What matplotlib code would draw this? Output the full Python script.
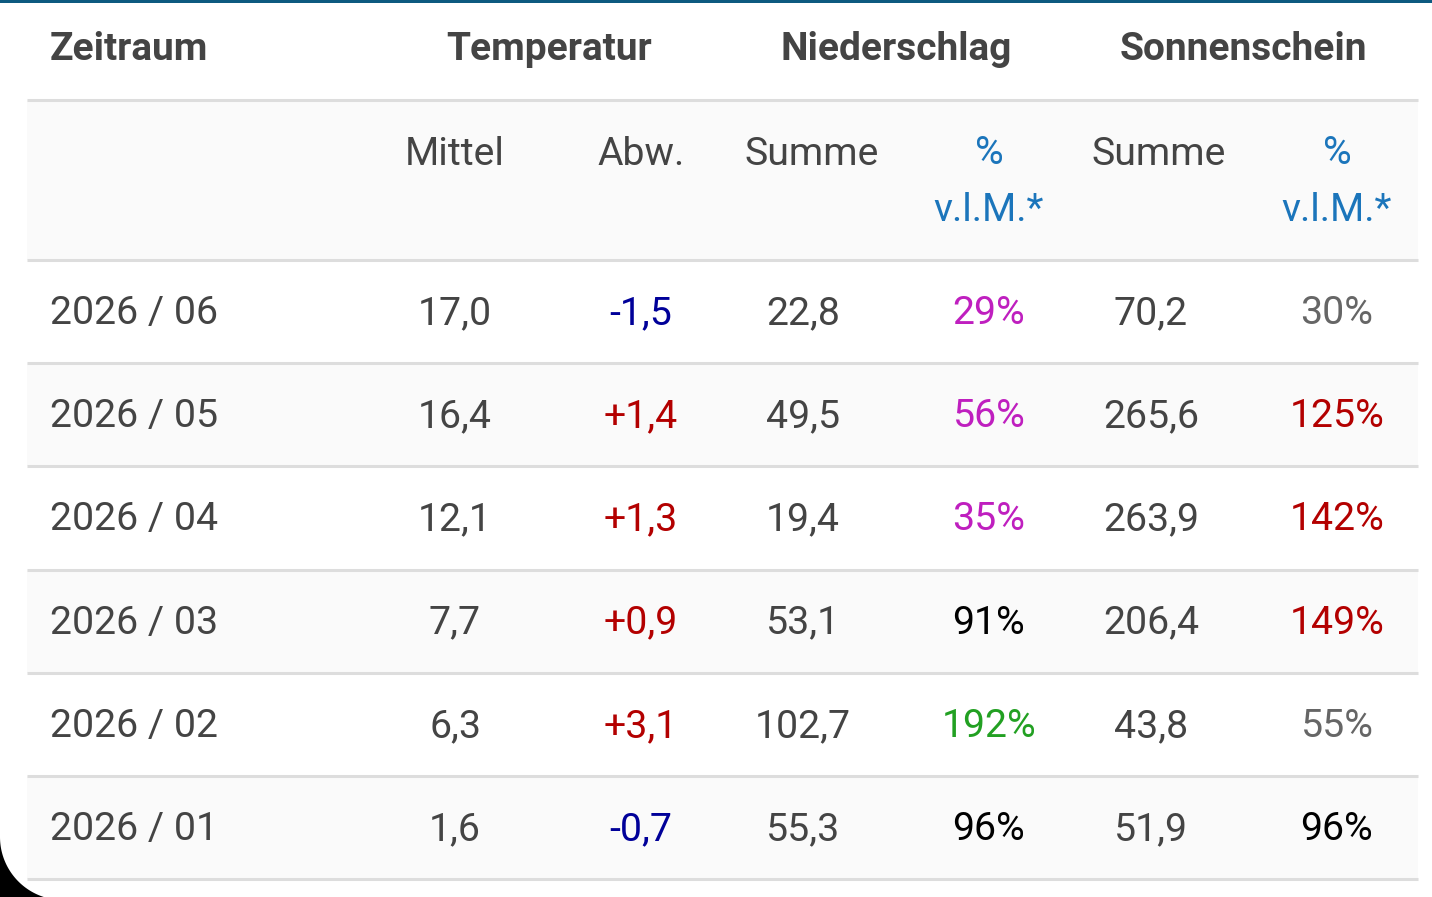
import matplotlib
matplotlib.use("Agg")
import matplotlib.pyplot as plt
import matplotlib.patches as mpatches
import numpy as np

plt.rcParams["font.family"] = ["Roboto", "DejaVu Sans"]

# Daten
zeitraum = ["2026 / 06", "2026 / 05", "2026 / 04", "2026 / 03", "2026 / 02", "2026 / 01"]
temp_mittel = [17.0, 16.4, 12.1, 7.7, 6.3, 1.6]
temp_abw = [-1.5, 1.4, 1.3, 0.9, 3.1, -0.7]
nied_summe = [22.8, 49.5, 19.4, 53.1, 102.7, 55.3]
nied_proz = [29, 56, 35, 91, 192, 96]
sonne_summe = [70.2, 265.6, 263.9, 206.4, 43.8, 51.9]
sonne_proz = [30, 125, 142, 149, 55, 96]

gruppen = ["Temperatur", "Niederschlag", "Sonnenschein"]
unterkopf = ["Mittel", "Abw.", "Summe", "%\nv.l.M.*", "Summe", "%\nv.l.M.*"]

TXT = "#444444"
BLAU_KOPF = "#1b75bb"
LINIE = "#dddddd"
GRAU_BG = "#fafafa"


def de(v, plus=False):
    s = f"{v:+.1f}" if plus else f"{v:.1f}"
    return s.replace(".", ",")


def farbe_abw(v):
    return "#000099" if v < 0 else "#b30000"


def farbe_nied(p):
    if p < 60:
        return "#bf1fbf"
    if p > 150:
        return "#22a022"
    return "#000000"


def farbe_sonne(p):
    if p < 60:
        return "#666666"
    if p > 110:
        return "#b30000"
    return "#000000"


fig = plt.figure(figsize=(14.32, 8.97), dpi=100, facecolor="white")
ax = fig.add_axes([0, 0, 1, 1])
ax.set_xlim(0, 1432)
ax.set_ylim(897, 0)
ax.axis("off")

x_links, x_rechts = 27, 1418
y_kopf, y_daten = 100, 260
zeile_h = 103.2

# obere Leiste
ax.add_patch(mpatches.Rectangle((0, 0), 1432, 3.5, color="#0d5a80", lw=0))

# Hintergruende
ax.add_patch(mpatches.Rectangle((x_links, y_kopf), x_rechts - x_links, y_daten - y_kopf,
                                color=GRAU_BG, lw=0))
for i in range(len(zeitraum)):
    if i % 2 == 1:
        y0 = y_daten + i * zeile_h
        ax.add_patch(mpatches.Rectangle((x_links, y0), x_rechts - x_links, zeile_h,
                                        color=GRAU_BG, lw=0))

# Linien
linien_y = [y_kopf, y_daten] + [y_daten + (i + 1) * zeile_h for i in range(len(zeitraum))]
for y in linien_y:
    ax.plot([x_links, x_rechts], [y, y], color=LINIE, lw=2.2, solid_capstyle="butt")

# Kopfzeile
fs_kopf = 28
ax.text(50, 60, "Zeitraum", fontsize=fs_kopf, fontweight="bold", color=TXT,
        ha="left", va="baseline")
for name, xc in zip(gruppen, [549, 896, 1243]):
    ax.text(xc, 60, name, fontsize=fs_kopf, fontweight="bold", color=TXT,
            ha="center", va="baseline")

fs = 28.3
kopf_x = [455, 641, 812, 989, 1159, 1337]
for name, xc in zip(unterkopf, kopf_x):
    if "\n" in name:
        a, b = name.split("\n")
        ax.text(xc, 164, a, fontsize=fs, color=BLAU_KOPF, ha="center", va="baseline")
        ax.text(xc, 221, b, fontsize=fs, color=BLAU_KOPF, ha="center", va="baseline")
    else:
        ax.text(xc, 165, name, fontsize=fs, color=TXT, ha="center", va="baseline")

# Datenzeilen
daten_x = [455, 641, 803, 989, 1151, 1337]
for i in range(len(zeitraum)):
    yb = y_daten + i * zeile_h + 64
    ax.text(50, yb, zeitraum[i], fontsize=fs, color=TXT, ha="left", va="baseline")
    zellen = [
        (de(temp_mittel[i]), TXT),
        (de(temp_abw[i], plus=True), farbe_abw(temp_abw[i])),
        (de(nied_summe[i]), TXT),
        (f"{nied_proz[i]}%", farbe_nied(nied_proz[i])),
        (de(sonne_summe[i]), TXT),
        (f"{sonne_proz[i]}%", farbe_sonne(sonne_proz[i])),
    ]
    for (s, c), xc in zip(zellen, daten_x):
        ax.text(xc, yb, s, fontsize=fs, color=c, ha="center", va="baseline")

# abgerundete Bildschirmecke unten links
r, cx, cy = 63, 63, 837
theta = np.linspace(0, np.arcsin(62 / r), 60)
bogen = [(cx - r * np.cos(t), cy + r * np.sin(t)) for t in theta]
poly = [(0, cy)] + bogen + [(0, 905)]
ax.add_patch(mpatches.Polygon(poly, closed=True, color="black", lw=0, clip_on=False))

fig.savefig("out.png", dpi=100, facecolor="white")
